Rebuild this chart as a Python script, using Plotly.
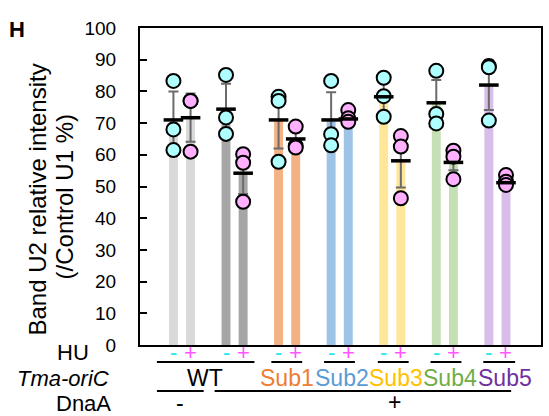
import plotly.graph_objects as go

# ---------------- data ----------------
groups = ["WT", "WT", "Sub1", "Sub2", "Sub3", "Sub4", "Sub5"]
dnaa = ["-", "+", "+", "+", "+", "+", "+"]

hu_minus_mean = [71.0, 74.4, 71.0, 71.0, 78.3, 76.4, 82.0]
hu_minus_err = [9.0, 8.0, 9.0, 8.7, 4.8, 7.2, 7.9]
hu_plus_mean = [71.7, 54.2, 65.0, 71.3, 58.1, 57.6, 51.2]
hu_plus_err = [7.6, 6.6, 3.0, 1.5, 8.4, 2.5, 1.0]

hu_minus_pts = [[83.3, 68.0, 61.5], [85.2, 71.8, 66.6], [78.3, 77.0, 57.8],
                [83.3, 66.5, 63.0], [84.3, 78.5, 72.0], [86.5, 72.9, 69.9],
                [88.0, 87.6, 70.8]]
hu_plus_pts = [[77.0, 77.0, 61.0], [60.2, 57.5, 45.2], [68.9, 62.8, 62.3],
               [74.1, 71.5, 70.4], [65.9, 62.6, 46.3], [61.3, 59.4, 52.3],
               [53.6, 51.5, 50.5]]

y_ticks = [0, 10, 20, 30, 40, 50, 60, 70, 80, 90, 100]

# ---------------- style ----------------
FONT = "Arial, 'Liberation Sans', sans-serif"
bar_colors = ["#D9D9D9", "#A6A6A6", "#F4B183", "#9DC3E6", "#FFE699", "#C5E0B4", "#D8BDEB"]
label_colors = {"WT": "#000000", "Sub1": "#ED7D31", "Sub2": "#5B9BD5", "Sub3": "#FFC000",
                "Sub4": "#70AD47", "Sub5": "#7030A0"}
CYAN_FILL = "#AFFFFF"
PINK_FILL = "#FFB0FF"
CYAN_TXT = "#22E6F0"
PINK_TXT = "#FF55FF"
OFF = 0.163
BW = 0.17
LBL = 23
ROW = 22

W, H = 549, 416
L, R, T, B = 140, 6, 28, 71
PW, PH = W - L - R, H - T - B


def px_x(p):  # pixel -> paper x
    return (p - L) / PW


def px_y(p):  # pixel -> paper y
    return (H - B - p) / PH


n = len(groups)
xm = [i - OFF for i in range(n)]
xp = [i + OFF for i in range(n)]

fig = go.Figure()
fig.add_trace(go.Bar(x=xm, y=hu_minus_mean, width=BW, marker=dict(color=bar_colors, line=dict(width=0)),
                     showlegend=False, hoverinfo="skip"))
fig.add_trace(go.Bar(x=xp, y=hu_plus_mean, width=BW, marker=dict(color=bar_colors, line=dict(width=0)),
                     showlegend=False, hoverinfo="skip"))

# error bars
for xs, ms, es in [(xm, hu_minus_mean, hu_minus_err), (xp, hu_plus_mean, hu_plus_err)]:
    fig.add_trace(go.Scatter(x=xs, y=ms, mode="markers", marker=dict(size=1, opacity=0),
                             error_y=dict(type="data", array=es, visible=True, color="#6B6B6B",
                                          thickness=2, width=5),
                             showlegend=False, hoverinfo="skip"))

# points
for xs, pts, fill in [(xm, hu_minus_pts, CYAN_FILL), (xp, hu_plus_pts, PINK_FILL)]:
    px_, py_ = [], []
    for x, vals in zip(xs, pts):
        for v in vals:
            px_.append(x)
            py_.append(v)
    fig.add_trace(go.Scatter(x=px_, y=py_, mode="markers",
                             marker=dict(size=14, color=fill, line=dict(color="black", width=2)),
                             showlegend=False, hoverinfo="skip"))

# means
for xs, ms in [(xm, hu_minus_mean), (xp, hu_plus_mean)]:
    fig.add_trace(go.Scatter(x=xs, y=ms, mode="markers",
                             marker=dict(symbol="line-ew", size=14, line=dict(color="black", width=3.5)),
                             showlegend=False, hoverinfo="skip"))

annotations = []
shapes = []

# y title (two lines)
annotations.append(dict(text="Band U2 relative intensity", textangle=-90, xref="paper", yref="paper",
                        x=px_x(36), y=px_y(200), xanchor="center", yanchor="middle", showarrow=False,
                        font=dict(family=FONT, size=24, color="black")))
annotations.append(dict(text="(/Control U1 %)", textangle=-90, xref="paper", yref="paper",
                        x=px_x(64), y=px_y(197), xanchor="center", yanchor="middle", showarrow=False,
                        font=dict(family=FONT, size=24, color="black")))
# panel letter
annotations.append(dict(text="<b>H</b>", xref="paper", yref="paper", x=px_x(6), y=px_y(30),
                        xanchor="left", yanchor="middle", showarrow=False,
                        font=dict(family=FONT, size=22, color="black")))

# row labels
for txt, xr, yc in [("HU", 91, 352.5), ("<i>Tma-oriC</i>", 111, 378), ("DnaA", 113, 403.5)]:
    annotations.append(dict(text=txt, xref="paper", yref="paper", x=px_x(xr), y=px_y(yc),
                            xanchor="right", yanchor="middle", showarrow=False,
                            font=dict(family=FONT, size=ROW, color="black")))

# HU - / +
for i in range(n):
    annotations.append(dict(text="-", xref="x", yref="paper", x=xm[i], y=px_y(352),
                            xanchor="center", yanchor="middle", showarrow=False,
                            font=dict(family=FONT, size=22, color=CYAN_TXT)))
    annotations.append(dict(text="+", xref="x", yref="paper", x=xp[i], y=px_y(352),
                            xanchor="center", yanchor="middle", showarrow=False,
                            font=dict(family=FONT, size=22, color=PINK_TXT)))

# HU underline segments
hu_segments = [(157, 255), (272, 303), (325, 356), (379, 410), (432, 463), (485, 517)]
for a, b in hu_segments:
    shapes.append(dict(type="line", xref="paper", yref="paper", x0=px_x(a), x1=px_x(b),
                       y0=px_y(362), y1=px_y(362), line=dict(color="black", width=2)))

# Tma-oriC labels
strain_px = {"WT": 205, "Sub1": 288, "Sub2": 343.5, "Sub3": 397.5, "Sub4": 451.5, "Sub5": 506.5}
for name in ["WT", "Sub1", "Sub2", "Sub3", "Sub4", "Sub5"]:
    annotations.append(dict(text=name, xref="paper", yref="paper", x=px_x(strain_px[name]), y=px_y(378),
                            xanchor="center", yanchor="middle", showarrow=False,
                            font=dict(family=FONT, size=LBL, color=label_colors[name])))

# DnaA underline segments
for a, b in [(157, 204), (215, 513)]:
    shapes.append(dict(type="line", xref="paper", yref="paper", x0=px_x(a), x1=px_x(b),
                       y0=px_y(391), y1=px_y(391), line=dict(color="black", width=2)))

# DnaA - / +
annotations.append(dict(text=dnaa[0], xref="paper", yref="paper", x=px_x(180), y=px_y(403),
                        xanchor="center", yanchor="middle", showarrow=False,
                        font=dict(family=FONT, size=LBL, color="black")))
annotations.append(dict(text=dnaa[1], xref="paper", yref="paper", x=px_x(396), y=px_y(402),
                        xanchor="center", yanchor="middle", showarrow=False,
                        font=dict(family=FONT, size=LBL, color="black")))

fig.update_layout(
    width=W, height=H,
    margin=dict(l=L, r=R, t=T, b=B, pad=0),
    paper_bgcolor="white", plot_bgcolor="white",
    barmode="overlay",
    showlegend=False,
    font=dict(family=FONT, color="black"),
    xaxis=dict(range=[-0.799, 6.829], showticklabels=False, ticks="", showgrid=False, zeroline=False,
               showline=True, linecolor="black", linewidth=2, mirror=True, fixedrange=True),
    yaxis=dict(range=[0, 100], tickvals=y_ticks, ticks="inside", ticklen=7, tickwidth=2,
               tickcolor="black", showgrid=False, zeroline=False, showline=True, linecolor="black",
               linewidth=2, mirror=True, tickfont=dict(family=FONT, size=19, color="black"),
               ticklabelstandoff=18),
    annotations=annotations,
    shapes=shapes,
)

fig.write_html("out.html")
